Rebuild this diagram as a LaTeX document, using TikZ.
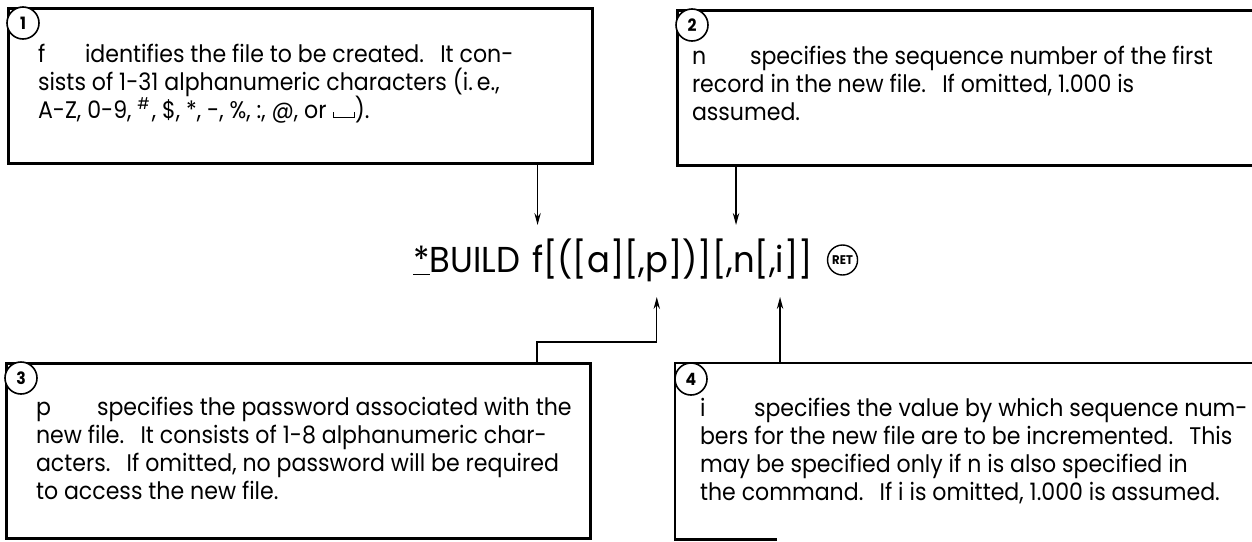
\documentclass[tikz,border=0pt]{standalone}
\usepackage{fontspec}
\setmainfont{Poppins}[FakeStretch=0.92]
\newfontfamily\cmdfont{Poppins}[FakeStretch=0.94]
\usetikzlibrary{arrows.meta}

% visible-space mark used in the character list
\newcommand\vspacemark{\rule{0.6pt}{3.2pt}\rule{10pt}{0.6pt}\rule{0.6pt}{3.2pt}}

\begin{document}
\begin{tikzpicture}[x=0.5pt,y=-0.5pt,
  box/.style={draw, line width=1.4pt, anchor=north west, inner sep=0pt},
  num/.style={circle, draw, fill=white, line width=0.8pt, minimum size=16pt, inner sep=0pt,
              font=\fontsize{8.5}{8.5}\selectfont\bfseries},
  ln/.style={anchor=base west, inner sep=0pt, outer sep=0pt, font=\fontsize{12}{14}\selectfont},
  cmd/.style={anchor=base west, inner sep=0pt, outer sep=0pt, font=\cmdfont\fontsize{18}{18}\selectfont},
  conn/.style={line width=0.7pt, -{Stealth[length=6pt,width=3.2pt]}}
]
\useasboundingbox (0,0) rectangle (1252,541);
\clip (0,0) rectangle (1252,541);

% description boxes
\node[box, minimum width=292pt, minimum height=77.5pt] (b1) at (7,7) {};
\node[box, minimum width=320pt, minimum height=77.5pt] (b2) at (676,9) {};
\node[box, minimum width=292pt, minimum height=87.5pt] (b3) at (5,362) {};
\node[anchor=north west, inner sep=0pt, minimum width=320pt, minimum height=88pt] (b4) at (675,363) {};
\draw[line width=1.4pt] ([xshift=51pt]b4.south west) -- (b4.south west) -- (b4.north west) -- (b4.north east);

% numbered circles
\node[num] (c1) at ([shift={(16,16)}]b1.north west) {1};
\node[num] (c2) at ([shift={(16,16)}]b2.north west) {2};
\node[num] (c3) at ([shift={(16,16)}]b3.north west) {3};
\node[num] (c4) at ([shift={(16,16)}]b4.north west) {4};

% box 1 text
\node[ln] (t1l) at (38,62) {f};
\node[ln] (t1a) at (85,62) {identifies the file to be created.\hspace{0.35em} It con-};
\node[ln] (t1b) at (38,90) {sists of 1-31 alphanumeric characters (i.\,e.,};
\node[ln] (t1c) at (38,118) {A-Z, 0-9, $^{\#}$, \$, *, -, \%, :, @, or \vspacemark).};

% box 2 text
\node[ln] (t2l) at (692,64) {n};
\node[ln] (t2a) at (750,64) {specifies the sequence number of the first};
\node[ln] (t2b) at (692,92) {record in the new file.\hspace{0.35em} If omitted, 1.000 is};
\node[ln] (t2c) at (692,120) {assumed.};

% box 3 text
\node[ln] (t3l) at (36,415) {p};
\node[ln] (t3a) at (97,415) {specifies the password associated with the};
\node[ln] (t3b) at (36,443) {new file.\hspace{0.35em} It consists of 1-8 alphanumeric char-};
\node[ln] (t3c) at (36,471) {acters.\hspace{0.35em} If omitted, no password will be required};
\node[ln] (t3d) at (36,499) {to access the new file.};

% box 4 text
\node[ln] (t4l) at (700,416) {i};
\node[ln] (t4a) at (754,416) {specifies the value by which sequence num-};
\node[ln] (t4b) at (700,444) {bers for the new file are to be incremented.\hspace{0.35em} This};
\node[ln] (t4c) at (700,472) {may be specified only if n is also specified in};
\node[ln] (t4d) at (700,500) {the command.\hspace{0.35em} If i is omitted, 1.000 is assumed.};

% command line
\node[cmd] (cf) at (532,272) {f};
\node[cmd, anchor=base east] (cbuild) at ([xshift=-6pt]cf.base west) {\underline{*}BUILD};
\node[cmd] (cq1) at (cf.base east) {[([a][,};
\node[cmd] (cp) at (cq1.base east) {p};
\node[cmd] (cq2) at (cp.base east) {])][,};
\node[cmd] (cn) at (cq2.base east) {n};
\node[cmd] (cq3) at (cn.base east) {[,};
\node[cmd] (ci) at (cq3.base east) {i};
\node[cmd] (cq4) at (ci.base east) {]]};
\node[circle, draw, line width=0.7pt, minimum size=15pt, inner sep=0pt,
      font=\fontsize{6.3}{6.3}\selectfont\bfseries, anchor=west] (ret) at ([xshift=7pt, yshift=6pt]cq4.base east) {RET};

% arrows to the command
\coordinate (topline) at (0,225);
\coordinate (botline) at (0,297);
\coordinate (k3) at (537,342);
\draw[conn] (b1.south -| cf) -- (cf |- topline);
\draw[conn] ([xshift=-4pt]b2.south -| cn) -- ([xshift=-4pt]cn |- topline);
\draw[conn] (b3.north -| k3) -- (k3) -- (k3 -| cp) -- (cp |- botline);
\draw[conn] (b4.north -| ci) -- (ci |- botline);
\end{tikzpicture}
\end{document}
